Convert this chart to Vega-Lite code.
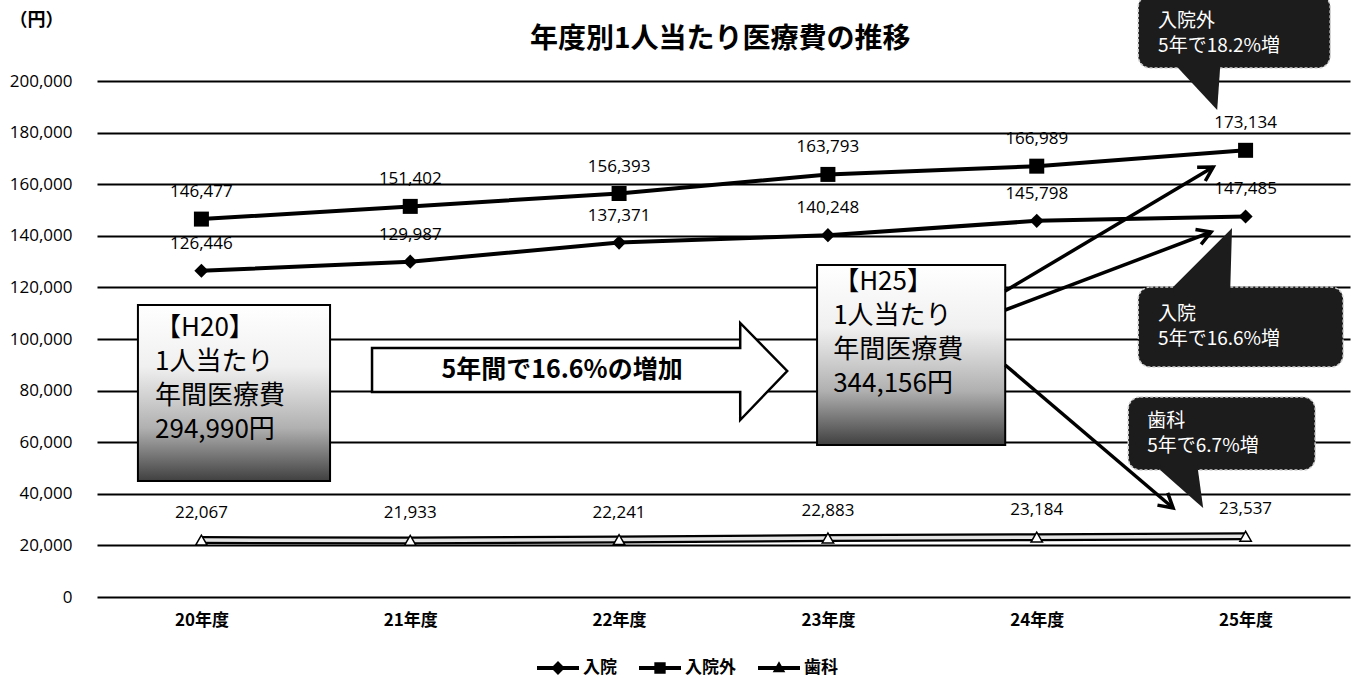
{
  "$schema": "https://vega.github.io/schema/vega-lite/v6.json",
  "width": 1253,
  "height": 516,
  "autosize": {"type": "none"},
  "padding": {"left": 97, "top": 81, "right": 2, "bottom": 82},
  "background": "white",
  "config": {"view": {"stroke": null}, "font": "Noto Sans CJK JP"},
  "datasets": {
    "series": [
      {"年": 20, "区分": "入院", "医療費": 126446},
      {"年": 21, "区分": "入院", "医療費": 129987},
      {"年": 22, "区分": "入院", "医療費": 137371},
      {"年": 23, "区分": "入院", "医療費": 140248},
      {"年": 24, "区分": "入院", "医療費": 145798},
      {"年": 25, "区分": "入院", "医療費": 147485},
      {"年": 20, "区分": "入院外", "医療費": 146477},
      {"年": 21, "区分": "入院外", "医療費": 151402},
      {"年": 22, "区分": "入院外", "医療費": 156393},
      {"年": 23, "区分": "入院外", "医療費": 163793},
      {"年": 24, "区分": "入院外", "医療費": 166989},
      {"年": 25, "区分": "入院外", "医療費": 173134},
      {"年": 20, "区分": "歯科", "医療費": 22067},
      {"年": 21, "区分": "歯科", "医療費": 21933},
      {"年": 22, "区分": "歯科", "医療費": 22241},
      {"年": 23, "区分": "歯科", "医療費": 22883},
      {"年": 24, "区分": "歯科", "医療費": 23184},
      {"年": 25, "区分": "歯科", "医療費": 23537}
    ],
    "titleText": [
      {"x": 22.484, "y": 215891, "label": "年度別1人当たり医療費の推移"}
    ],
    "hbox": [
      {"x1": 19.696, "x2": 20.616, "y1": 113178, "y2": 44961, "tx": 19.778, "ty": 109302, "label": "【H20】\n1人当たり\n年間医療費\n294,990円"},
      {"x1": 22.948, "x2": 23.849, "y1": 128682, "y2": 58915, "tx": 23.025, "ty": 127132, "label": "【H25】\n1人当たり\n年間医療費\n344,156円"}
    ],
    "bigArrow": [
      {"x": 20.817, "lo": 79457, "hi": 96512},
      {"x": 22.58, "lo": 79457, "hi": 96512},
      {"x": 22.5801, "lo": 68605, "hi": 106202},
      {"x": 22.805, "lo": 87597, "hi": 87597}
    ],
    "bigArrowText": [
      {"x": 21.727, "y": 87984, "label": "5年間で16.6%の増加"}
    ],
    "arrows": [
      {"seg": "a1", "ord": 1, "x": 23.849, "y": 118605},
      {"seg": "a1", "ord": 2, "x": 24.845, "y": 166667},
      {"seg": "a2", "ord": 1, "x": 24.768, "y": 166589},
      {"seg": "a2", "ord": 2, "x": 24.845, "y": 166667},
      {"seg": "a2", "ord": 3, "x": 24.807, "y": 161240},
      {"seg": "b1", "ord": 1, "x": 23.849, "y": 111240},
      {"seg": "b1", "ord": 2, "x": 24.835, "y": 141473},
      {"seg": "b2", "ord": 1, "x": 24.76, "y": 142481},
      {"seg": "b2", "ord": 2, "x": 24.835, "y": 141473},
      {"seg": "b2", "ord": 3, "x": 24.787, "y": 136667},
      {"seg": "c1", "ord": 1, "x": 23.849, "y": 89922},
      {"seg": "c1", "ord": 2, "x": 24.653, "y": 34496},
      {"seg": "c2", "ord": 1, "x": 24.627, "y": 40349},
      {"seg": "c2", "ord": 2, "x": 24.653, "y": 34496},
      {"seg": "c2", "ord": 3, "x": 24.578, "y": 35620}
    ],
    "callouts": [
      {"x1": 24.486, "x2": 25.405, "y1": 233333, "y2": 205039, "tx": 24.581, "ty": 226744, "label": "入院外\n5年で18.2%増"},
      {"x1": 24.486, "x2": 25.467, "y1": 120155, "y2": 89147, "tx": 24.581, "ty": 113178, "label": "入院\n5年で16.6%増"},
      {"x1": 24.438, "x2": 25.333, "y1": 77519, "y2": 49225, "tx": 24.529, "ty": 71705, "label": "歯科\n5年で6.7%増"}
    ],
    "tails": [
      {"id": "a", "x": 24.677, "lo": 205039, "hi": 207364},
      {"id": "a", "x": 24.864, "lo": 188760, "hi": 207364},
      {"id": "a", "x": 24.878, "lo": 205039, "hi": 207364},
      {"id": "b", "x": 24.653, "lo": 117829, "hi": 120155},
      {"id": "b", "x": 24.926, "lo": 117829, "hi": 142248},
      {"id": "b", "x": 24.935, "lo": 143023, "hi": 143023},
      {"id": "c", "x": 24.591, "lo": 49225, "hi": 51550},
      {"id": "c", "x": 24.768, "lo": 36550, "hi": 51550},
      {"id": "c", "x": 24.797, "lo": 34496, "hi": 34496}
    ]
  },
  "layer": [
    {
      "data": {"name": "series"},
      "transform": [{"filter": "datum['区分'] !== '歯科'"}],
      "mark": {"type": "line", "color": "black", "strokeWidth": 4},
      "encoding": {
        "x": {"field": "年", "type": "quantitative",
          "scale": {"domain": [19.5, 25.5], "nice": false, "zero": false},
          "axis": {"values": [20, 21, 22, 23, 24, 25], "labelExpr": "datum.value + '年度'", "title": null, "grid": false, "ticks": false, "domain": false, "labelPadding": 15, "labelFontSize": 17, "labelFontWeight": "bold", "labelFont": "Noto Sans CJK JP", "labelColor": "black"}},
        "y": {"field": "医療費", "type": "quantitative",
          "scale": {"domain": [0, 200000], "nice": false, "zero": true},
          "axis": {"values": [0, 20000, 40000, 60000, 80000, 100000, 120000, 140000, 160000, 180000, 200000], "labelExpr": "format(datum.value, ',')", "title": "（円）", "titleAngle": 0, "titleX": -88, "titleY": -61, "titleAlign": "left", "titleBaseline": "middle", "titleFontSize": 18, "titleFontWeight": "bold", "titleFont": "Noto Sans CJK JP", "titleColor": "black", "grid": true, "gridColor": "black", "gridWidth": 2, "gridOpacity": 1, "ticks": false, "domain": false, "labelPadding": 25, "labelFontSize": 17, "labelFont": "Open Sans", "labelColor": "black"}},
        "detail": {"field": "区分"}
      }
    },
    {
      "data": {"name": "series"},
      "transform": [{"filter": "datum['区分'] === '歯科'"}],
      "mark": {"type": "line", "color": "black", "strokeWidth": 8},
      "encoding": {
        "x": {"field": "年", "type": "quantitative"},
        "y": {"field": "医療費", "type": "quantitative"}
      }
    },
    {
      "data": {"name": "series"},
      "transform": [{"filter": "datum['区分'] === '歯科'"}],
      "mark": {"type": "line", "color": "#e4e4e4", "strokeWidth": 3.5},
      "encoding": {
        "x": {"field": "年", "type": "quantitative"},
        "y": {"field": "医療費", "type": "quantitative"}
      }
    },
    {
      "data": {"name": "series"},
      "transform": [{"filter": "datum['区分'] === '入院'"}],
      "mark": {"type": "point", "shape": "diamond", "filled": true, "color": "black", "size": 200, "opacity": 1},
      "encoding": {
        "x": {"field": "年", "type": "quantitative"},
        "y": {"field": "医療費", "type": "quantitative"}
      }
    },
    {
      "data": {"name": "series"},
      "transform": [{"filter": "datum['区分'] === '入院外'"}],
      "mark": {"type": "point", "shape": "square", "filled": true, "color": "black", "size": 225, "opacity": 1},
      "encoding": {
        "x": {"field": "年", "type": "quantitative"},
        "y": {"field": "医療費", "type": "quantitative"}
      }
    },
    {
      "data": {"name": "series"},
      "transform": [{"filter": "datum['区分'] === '歯科'"}],
      "mark": {"type": "point", "shape": "triangle-up", "filled": true, "fill": "white", "stroke": "black", "strokeWidth": 1.5, "size": 130, "opacity": 1},
      "encoding": {
        "x": {"field": "年", "type": "quantitative"},
        "y": {"field": "医療費", "type": "quantitative"}
      }
    },
    {
      "data": {"name": "series"},
      "mark": {"type": "text", "dy": -27, "fontSize": 17, "font": "Open Sans", "color": "black", "baseline": "middle", "align": "center"},
      "encoding": {
        "x": {"field": "年", "type": "quantitative"},
        "y": {"field": "医療費", "type": "quantitative"},
        "text": {"field": "医療費", "type": "quantitative", "format": ","}
      }
    },
    {
      "data": {"name": "series"},
      "mark": {"type": "point", "filled": true, "opacity": 0, "color": "black"},
      "encoding": {
        "x": {"field": "年", "type": "quantitative"},
        "y": {"field": "医療費", "type": "quantitative"},
        "shape": {"field": "区分", "type": "nominal",
          "scale": {"domain": ["入院", "入院外", "歯科"], "range": [
            "M-1,-0.09L1,-0.09L1,0.09L-1,0.09Z M0,-0.33L0.33,0L0,0.33L-0.33,0Z",
            "M-1,-0.09L1,-0.09L1,0.09L-1,0.09Z M-0.27,-0.27L0.27,-0.27L0.27,0.27L-0.27,0.27Z",
            "M-1,-0.09L1,-0.09L1,0.09L-1,0.09Z M0,-0.32L0.3,0.2L-0.3,0.2Z"]},
          "legend": {"orient": "none", "legendX": 440, "legendY": 566, "direction": "horizontal", "title": null, "symbolSize": 1764, "symbolFillColor": "black", "symbolStrokeWidth": 0, "symbolOpacity": 1, "labelFontSize": 17, "labelFont": "Noto Sans CJK JP", "labelFontWeight": "bold", "labelColor": "black", "labelOffset": 4, "columnPadding": 22, "padding": 0}}
      }
    },
    {
      "data": {"name": "titleText"},
      "mark": {"type": "text", "align": "center", "baseline": "middle", "fontSize": 28, "fontWeight": "bold", "font": "Noto Sans CJK JP", "color": "black"},
      "encoding": {
        "x": {"field": "x", "type": "quantitative"},
        "y": {"field": "y", "type": "quantitative"},
        "text": {"field": "label", "type": "nominal"}
      }
    },
    {
      "data": {"name": "hbox"},
      "mark": {"type": "rect", "stroke": "black", "strokeWidth": 2, "fill": {"gradient": "linear", "x1": 0, "y1": 0, "x2": 0, "y2": 1, "stops": [{"offset": 0, "color": "#ffffff"}, {"offset": 0.35, "color": "#f0f0f0"}, {"offset": 0.7, "color": "#b0b0b0"}, {"offset": 1, "color": "#404040"}]}},
      "encoding": {
        "x": {"field": "x1", "type": "quantitative"},
        "x2": {"field": "x2"},
        "y": {"field": "y1", "type": "quantitative"},
        "y2": {"field": "y2"}
      }
    },
    {
      "data": {"name": "hbox"},
      "mark": {"type": "text", "align": "left", "baseline": "top", "fontSize": 26, "lineHeight": 34, "lineBreak": "\n", "font": "Noto Sans CJK JP", "color": "black"},
      "encoding": {
        "x": {"field": "tx", "type": "quantitative"},
        "y": {"field": "ty", "type": "quantitative"},
        "text": {"field": "label", "type": "nominal"}
      }
    },
    {
      "data": {"name": "bigArrow"},
      "mark": {"type": "area", "fill": "white", "stroke": "black", "strokeWidth": 2.5, "orient": "vertical", "opacity": 1, "fillOpacity": 1},
      "encoding": {
        "x": {"field": "x", "type": "quantitative"},
        "y": {"field": "lo", "type": "quantitative", "stack": null},
        "y2": {"field": "hi"}
      }
    },
    {
      "data": {"name": "bigArrowText"},
      "mark": {"type": "text", "align": "center", "baseline": "middle", "fontSize": 25, "fontWeight": "bold", "font": "Noto Sans CJK JP", "color": "black"},
      "encoding": {
        "x": {"field": "x", "type": "quantitative"},
        "y": {"field": "y", "type": "quantitative"},
        "text": {"field": "label", "type": "nominal"}
      }
    },
    {
      "data": {"name": "arrows"},
      "mark": {"type": "line", "color": "black", "strokeWidth": 3.5, "strokeJoin": "miter"},
      "encoding": {
        "x": {"field": "x", "type": "quantitative"},
        "y": {"field": "y", "type": "quantitative"},
        "detail": {"field": "seg"},
        "order": {"field": "ord"}
      }
    },
    {
      "data": {"name": "callouts"},
      "mark": {"type": "rect", "fill": "#1c1c1c", "stroke": "#cfcfcf", "strokeWidth": 1.5, "strokeDash": [3, 2], "cornerRadius": 12},
      "encoding": {
        "x": {"field": "x1", "type": "quantitative"},
        "x2": {"field": "x2"},
        "y": {"field": "y1", "type": "quantitative"},
        "y2": {"field": "y2"}
      }
    },
    {
      "data": {"name": "tails"},
      "mark": {"type": "area", "fill": "#1c1c1c", "orient": "vertical", "opacity": 1},
      "encoding": {
        "x": {"field": "x", "type": "quantitative"},
        "y": {"field": "lo", "type": "quantitative", "stack": null},
        "y2": {"field": "hi"},
        "detail": {"field": "id"}
      }
    },
    {
      "data": {"name": "callouts"},
      "mark": {"type": "text", "align": "left", "baseline": "top", "fontSize": 19, "lineHeight": 25, "lineBreak": "\n", "font": "Noto Sans CJK JP", "color": "white"},
      "encoding": {
        "x": {"field": "tx", "type": "quantitative"},
        "y": {"field": "ty", "type": "quantitative"},
        "text": {"field": "label", "type": "nominal"}
      }
    }
  ]
}
